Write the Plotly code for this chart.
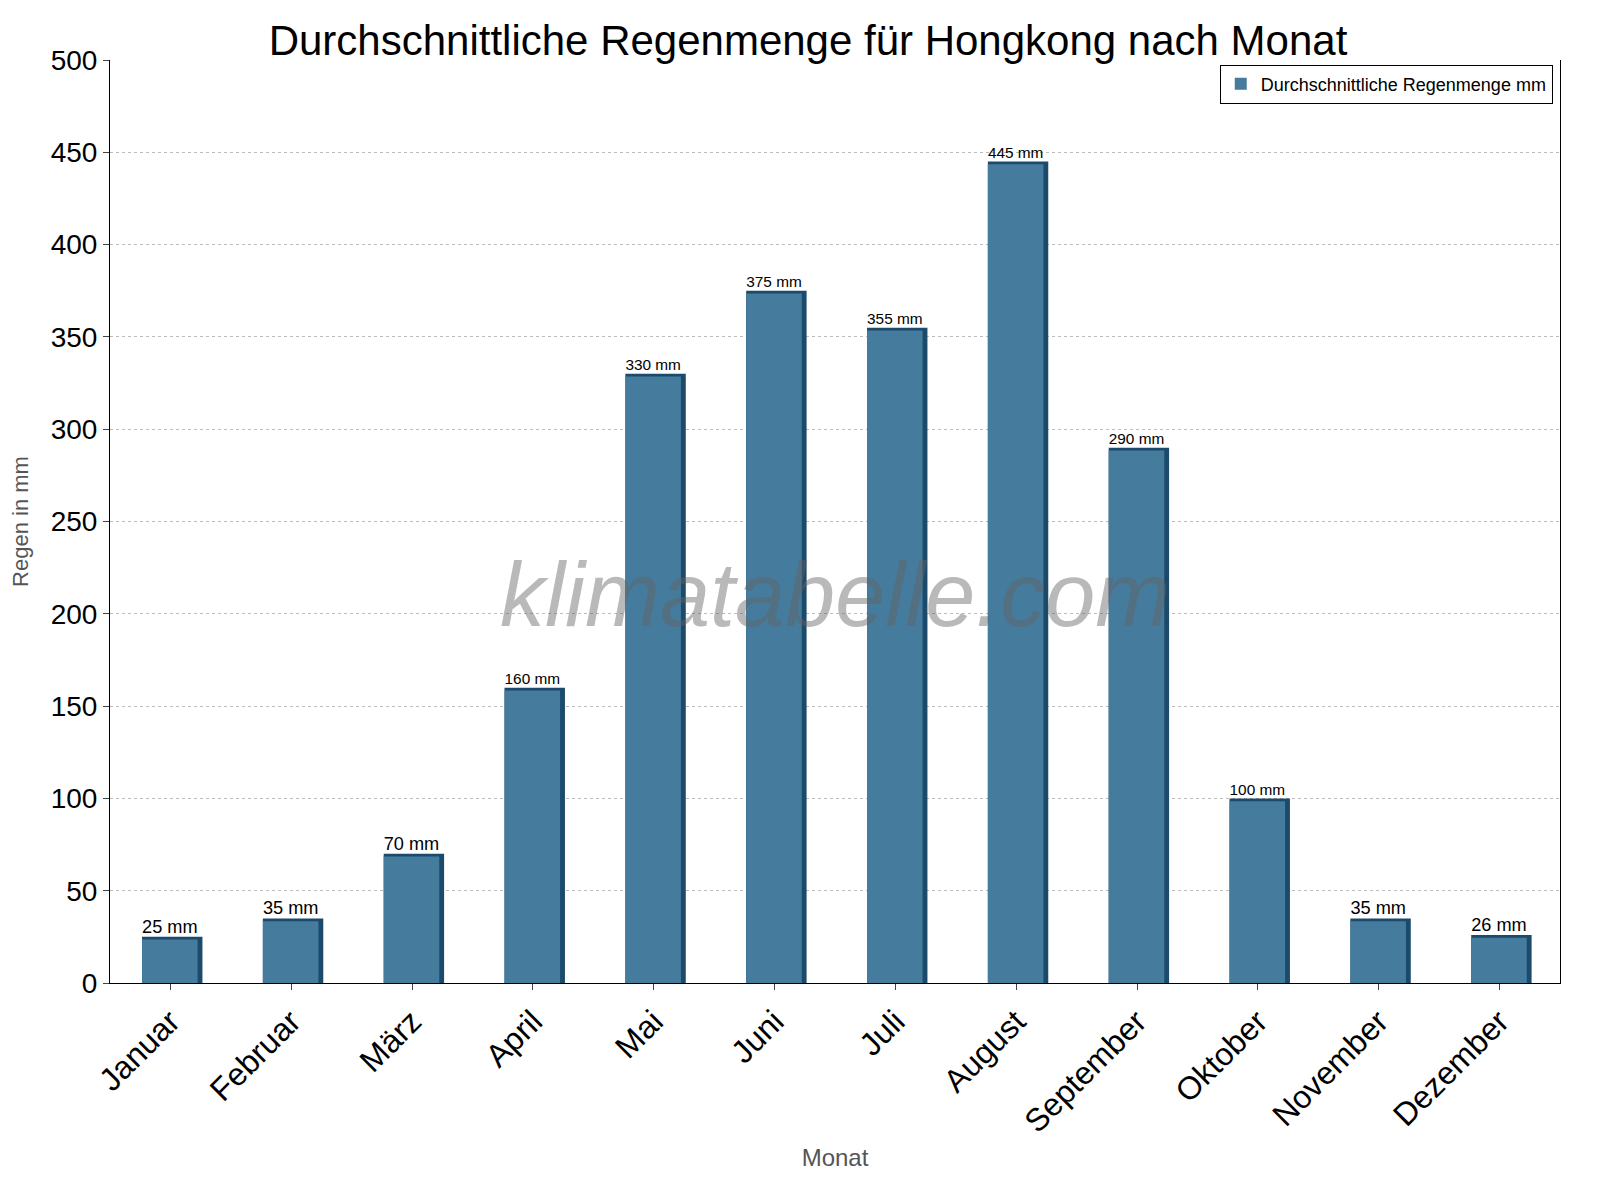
import plotly.graph_objects as go

months = ["Januar", "Februar", "März", "April", "Mai", "Juni", "Juli",
          "August", "September", "Oktober", "November", "Dezember"]
rain_mm = [25, 35, 70, 160, 330, 375, 355, 445, 290, 100, 35, 26]
labels = [f"{v} mm" for v in rain_mm]

fig = go.Figure()

# dark "side" bar behind, for a faux 3D look
fig.add_trace(go.Bar(x=months, y=rain_mm, width=0.5, offset=-0.235,
                     marker=dict(color="#1b4a6b", line=dict(width=0)),
                     showlegend=False, hoverinfo="skip"))
# front bar
fig.add_trace(go.Bar(x=months, y=[v - 1.5 for v in rain_mm], width=0.46,
                     offset=-0.235, name="Durchschnittliche Regenmenge mm",
                     marker=dict(color="#457b9d", line=dict(width=0)),
                     text=labels, textposition="outside", cliponaxis=False,
                     textfont=dict(size=28, color="black")))

fig.update_layout(
    width=1600, height=1200,
    barmode="overlay",
    paper_bgcolor="white", plot_bgcolor="white",
    font=dict(family="Liberation Sans, Arial, sans-serif"),
    title=dict(text="Durchschnittliche Regenmenge für Hongkong nach Monat",
               x=0.5, xanchor="center", y=0.985, yanchor="top",
               font=dict(size=42, color="black")),
    margin=dict(l=102, r=48, t=52, b=225),
    legend=dict(x=0.995, y=0.995, xanchor="right", yanchor="top",
                bordercolor="black", borderwidth=1, bgcolor="white",
                font=dict(size=18, color="black"), traceorder="reversed"),
    xaxis=dict(title=dict(text="Monat", font=dict(size=24, color="#555"), standoff=10),
               tickangle=-45, tickfont=dict(size=32, color="black"),
               showline=True, linecolor="black", ticks="outside", ticklen=6,
               showgrid=False),
    yaxis=dict(title=dict(text="Regen in mm", font=dict(size=22, color="#555")),
               range=[0, 500], dtick=50, tickfont=dict(size=28, color="black"),
               showline=True, linecolor="black", mirror=True, ticks="outside",
               ticklen=6, gridcolor="#bbb", griddash="dot", zeroline=False),
    annotations=[dict(text="<i>klimatabelle.com</i>", xref="paper", yref="paper",
                      x=0.5, y=0.42, showarrow=False,
                      font=dict(size=90, color="rgba(100,100,100,0.45)"))],
)

fig.write_html("out.html")
